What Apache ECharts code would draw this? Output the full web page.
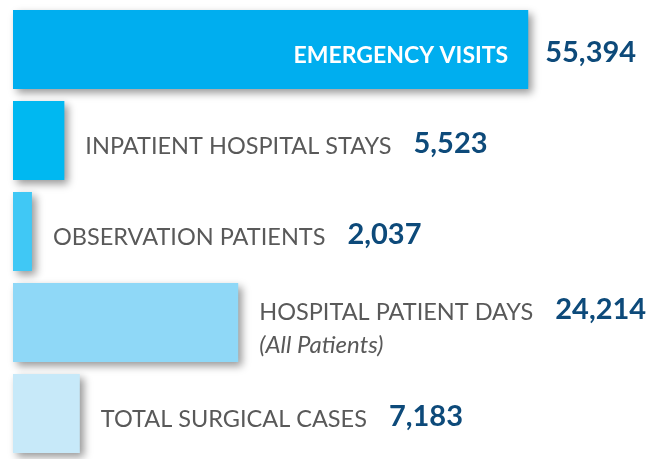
<!DOCTYPE html>
<html>
<head>
<meta charset="utf-8">
<script src="https://cdn.jsdelivr.net/npm/echarts@6/dist/echarts.min.js"></script>
<style>
html,body{margin:0;padding:0;background:#fff;}
#main{width:651px;height:459px;}
</style>
</head>
<body>
<div id="main"></div>
<script>
const categories=['EMERGENCY VISITS','INPATIENT HOSPITAL STAYS','OBSERVATION PATIENTS','HOSPITAL PATIENT DAYS','TOTAL SURGICAL CASES'];
const values=[55394,5523,2037,24214,7183];
const notes=['','','','(All Patients)',''];
const barColors=['#00aeef','#00b8f1','#40c8f5','#8fd8f7','#c7e9f9'];

let chart=echarts.init(document.getElementById('main'));

function fmt(v){
	return v.toLocaleString('en-US');
}

const richStyle={
	n:{fontFamily:'Lato',fontSize:23.5,color:'#595959',lineHeight:36,verticalAlign:'bottom'},
	v:{fontFamily:'Lato',fontSize:29,fontWeight:'bold',color:'#0d4a7a',lineHeight:36,verticalAlign:'bottom',padding:[0,0,0,22]},
	i:{fontFamily:'Lato',fontSize:24,fontStyle:'italic',color:'#595959',lineHeight:33,verticalAlign:'bottom'},
	w:{fontFamily:'Lato',fontSize:23,fontWeight:'bold',color:'#ffffff',lineHeight:36,verticalAlign:'bottom'},
};

let barData=values.map(function(v,i){
	let lab;
	if(i===0){
		lab={show:true,position:'insideRight',distance:20,formatter:'{w|'+categories[i]+'}',rich:richStyle};
	}else{
		let txt='{n|'+categories[i]+'}{v|'+fmt(v)+'}';
		if(notes[i]) txt+='\n{i|'+notes[i]+'}';
		lab={show:true,position:'right',distance:21,formatter:txt,rich:richStyle};
	}
	return {value:v,itemStyle:{color:barColors[i]},label:lab};
});

let valueData=values.map(function(v,i){
	return {
		value:v,
		label:{show:i===0,position:'right',distance:17,formatter:'{v|'+fmt(v)+'}',rich:{v:Object.assign({},richStyle.v,{padding:0})}},
	};
});

chart.setOption({
	animation:false,
	grid:{left:13,right:39,top:4,height:465},
	xAxis:{
		type:'value',
		min:0,
		max:64400,
		show:false,
	},
	yAxis:{
		type:'category',
		data:categories,
		inverse:true,
		show:false,
	},
	series:[
		{
			type:'bar',
			barWidth:79,
			data:barData,
			itemStyle:{
				shadowColor:'rgba(0,0,0,0.4)',
				shadowBlur:8,
				shadowOffsetX:4,
				shadowOffsetY:4,
			},
		},
		{
			type:'bar',
			barWidth:79,
			barGap:'-100%',
			silent:true,
			data:valueData,
			itemStyle:{color:'rgba(0,0,0,0)'},
		},
	],
});
</script>
</body>
</html>
